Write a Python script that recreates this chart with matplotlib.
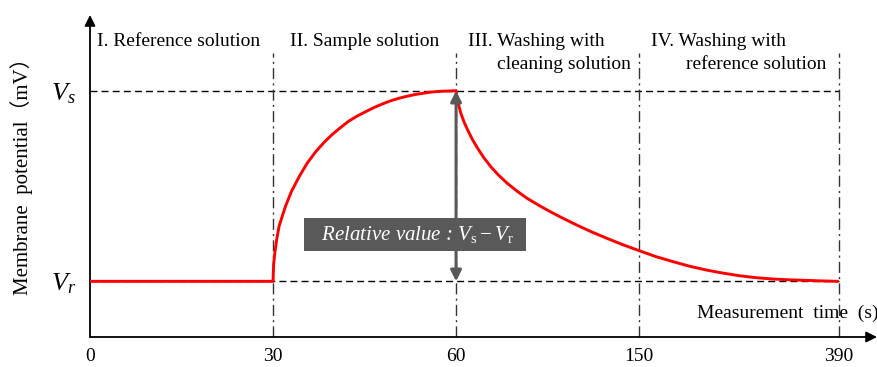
import numpy as np
import matplotlib
matplotlib.use("Agg")
import matplotlib.pyplot as plt


# tick times (s) and their evenly spaced positions on the schematic axis
TIMES = [0, 30, 60, 150, 390]
POSITIONS = [0, 1, 2, 3, 4.09]

# normalised potential: 0 = V_r, 1 = V_s
REF_T = [0, 30]
REF_V = [0, 0]
RISE_T = [30, 30.1, 30.3, 30.6, 31, 32, 33, 34.3, 35.6, 37, 38.4, 39.7, 41, 42.4, 43.8,
          45.2, 46.5, 47.9, 49.2, 50.6, 52, 53.3, 54.7, 56, 57.6, 59.3, 60]
RISE_V = [0, 0.09, 0.15, 0.22, 0.29, 0.39, 0.47, 0.55, 0.62, 0.68, 0.73, 0.77, 0.805,
          0.84, 0.867, 0.89, 0.911, 0.93, 0.946, 0.96, 0.971, 0.98, 0.987, 0.993, 0.997,
          0.999, 1.0]
DECAY_T = [60, 60.3, 60.8, 61.5, 62.4, 64, 65.7, 68, 70.6, 73.7, 77.1, 81, 85.2, 90,
           95, 100.5, 106.4, 112.7, 119.4, 126.5, 134.1, 141.8, 150,
           170, 191, 211, 231.3, 251, 271.4, 291, 311.6, 331, 351.9, 371, 390]
DECAY_V = [1.0, 0.975, 0.95, 0.915, 0.88, 0.834, 0.794, 0.745, 0.698, 0.648, 0.601,
           0.556, 0.514, 0.473, 0.435, 0.4, 0.365, 0.33, 0.295, 0.26, 0.226, 0.193,
           0.161, 0.13, 0.103, 0.079, 0.059, 0.043, 0.029, 0.019, 0.012, 0.008,
           0.005, 0.002, 0.0]

PHASES = [
    ("I. Reference solution", None),
    ("II. Sample solution", None),
    ("III. Washing with", "cleaning solution"),
    ("IV. Washing with", "reference solution"),
]

SERIF = ["Liberation Serif", "Noto Sans CJK SC"]

plt.rcParams["font.family"] = SERIF
plt.rcParams["mathtext.fontset"] = "custom"
plt.rcParams["mathtext.rm"] = "Liberation Serif"
plt.rcParams["mathtext.it"] = "Liberation Serif:italic"


def to_pos(t):
    return np.interp(t, TIMES, POSITIONS)


fig = plt.figure(figsize=(8.77, 3.67), dpi=100)
ax = fig.add_axes([90 / 877, 30 / 367, 787 / 877, 322 / 367])
ax.set_xlim(0, 4.30)
ax.set_ylim(-0.292, 1.397)

for s in ax.spines.values():
    s.set_visible(False)

# axes with arrow heads
ax.annotate("", xy=(0, 1), xytext=(0, 0), xycoords="axes fraction",
            arrowprops=dict(arrowstyle="-|>", color="black", lw=1.3,
                            mutation_scale=16, shrinkA=0, shrinkB=0))
ax.annotate("", xy=(1.0, 0), xytext=(0, 0), xycoords="axes fraction",
            arrowprops=dict(arrowstyle="-|>", color="black", lw=1.3,
                            mutation_scale=16, shrinkA=0, shrinkB=0))

# reference lines
end = to_pos(TIMES[-1])
for v in (0, 1):
    ax.plot([0, end], [v, v], color="black", lw=1.0, ls=(0, (5, 3)), zorder=1)
for t in TIMES[1:]:
    p = to_pos(t)
    ax.plot([p, p], [-0.292, 1.198], color="#333333", lw=1.0,
            ls=(0, (8, 3, 1.5, 3)), zorder=1)

# potential curve
t_all = REF_T + RISE_T[1:] + DECAY_T[1:]
v_all = REF_V + RISE_V[1:] + DECAY_V[1:]
ax.plot(to_pos(t_all), v_all, color="#ff0000", lw=2.1, zorder=3,
        solid_joinstyle="round", solid_capstyle="butt")

# relative value arrow and label
p60 = to_pos(60)
ax.annotate("", xy=(p60, 1), xytext=(p60, 0),
            arrowprops=dict(arrowstyle="<|-|>", color="#595959", lw=2.2,
                            mutation_scale=16, shrinkA=0, shrinkB=0), zorder=4)
ax.text(1.776, 0.245, r"  Relative value : $V_\mathrm{s} - V_\mathrm{r}$  ",
        style="italic", color="white", fontsize=15, ha="center", va="center",
        zorder=5,
        bbox=dict(boxstyle="square,pad=0.3", fc="#595959", ec="none"))

# phase labels
label_x = [0.038, 1.093, 2.066, 3.066]
second_x = [None, None, 2.224, 3.257]
for (l1, l2), x1, x2 in zip(PHASES, label_x, second_x):
    ax.text(x1, 1.2555, l1, fontsize=14, ha="left", va="center")
    if l2:
        ax.text(x2, 1.135, l2, fontsize=14, ha="left", va="center")

# ticks
ax.set_xticks(POSITIONS, labels=[str(t) for t in TIMES])
ax.set_yticks([0, 1], labels=[r"$V_r$", r"$V_s$"])
ax.tick_params(axis="x", length=0, pad=8, labelsize=14)
ax.tick_params(axis="y", length=0, pad=10, labelsize=19)

ax.text(3.317, -0.166, "Measurement  time  (s)", fontsize=14,
        ha="left", va="center", clip_on=False)
fig.text(22 / 877, 1 - 171 / 367, "Membrane  potential（mV）", rotation=90,
         fontsize=15, ha="center", va="center")

fig.savefig("out.png", dpi=100)
